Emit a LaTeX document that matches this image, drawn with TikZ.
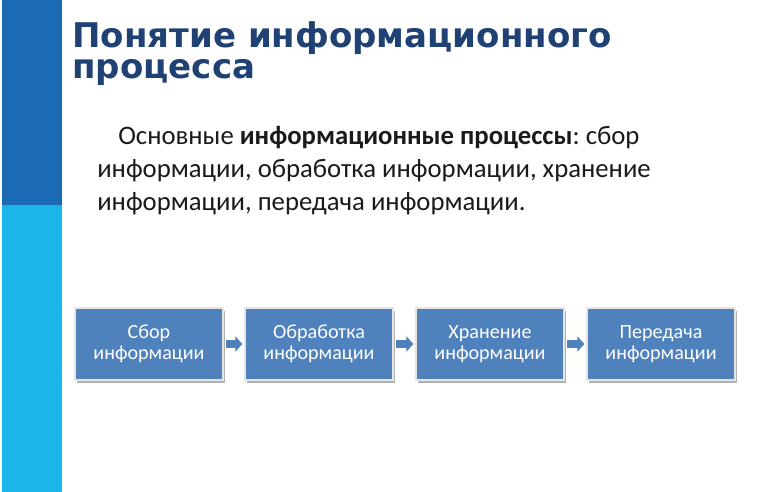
\documentclass[tikz,border=0pt]{standalone}
\usepackage{fontspec}
\setmainfont{Carlito}
\newfontfamily\titlefont{DejaVu Sans}
\usetikzlibrary{arrows.meta, positioning, shadows}
\definecolor{bardark}{HTML}{1A6BB4}
\definecolor{barlight}{HTML}{1CB5EB}
\definecolor{titleblue}{HTML}{1F4173}
\definecolor{boxblue}{HTML}{4F81BD}
\definecolor{bodytext}{HTML}{1A1A1A}
\newlength\pxl
\setlength\pxl{0.025cm}
\frenchspacing

\begin{document}
\begin{tikzpicture}[
			x=\pxl, y=-\pxl,
			% Define styles
			titletext/.style={inner sep=0pt, anchor=north west, align=left, text=titleblue, font=\titlefont\bfseries\fontsize{24.2}{22.4}\selectfont},
			bodypara/.style={inner sep=0pt, anchor=north west, align=left, text=bodytext, font=\fontsize{19}{23.5}\selectfont},
			stagebox/.style={rectangle, draw=white!80!gray, line width=1.2\pxl, fill=boxblue, minimum width=148\pxl, minimum height=72\pxl, align=center, text=white, font=\fontsize{14.3}{14.6}\selectfont, drop shadow={shadow xshift=2\pxl, shadow yshift=-3\pxl, opacity=0.3, fill=black}},
			flow/.style={-{Triangle[length=0.175cm, width=0.375cm]}, line width=0.175cm, draw=boxblue, shorten <=0.05cm, shorten >=0.05cm}
			]
			
			% Page frame
			\useasboundingbox (0,0) rectangle (770,492);
			\fill[white] (0,0) rectangle (770,492);
			
			% Side bar
			\fill[bardark] (2,0) rectangle (62,205);
			\fill[barlight] (2,205) rectangle (62,492);
			
			% Heading
			\node[titletext] (heading) at (72,21) {Понятие информационного\\процесса};
			
			% Paragraph
			\node[bodypara] (para) at (97,126) {\hspace{21\pxl}Основные \textbf{информационные процессы}: сбор\\информации, обработка информации, хранение\\информации, передача информации.};
			
			% Process stages
			\node[stagebox] (collect) at (149,344) {Сбор\\информации};
			\node[stagebox] (process) at (319,344) {Обработка\\информации};
			\node[stagebox] (store) at (490,344) {Хранение\\информации};
			\node[stagebox] (transfer) at (661,344) {Передача\\информации};
			
			% Connections between stages
			\draw[flow] (collect) -- (process);
			\draw[flow] (process) -- (store);
			\draw[flow] (store) -- (transfer);
			
		\end{tikzpicture}
\end{document}
